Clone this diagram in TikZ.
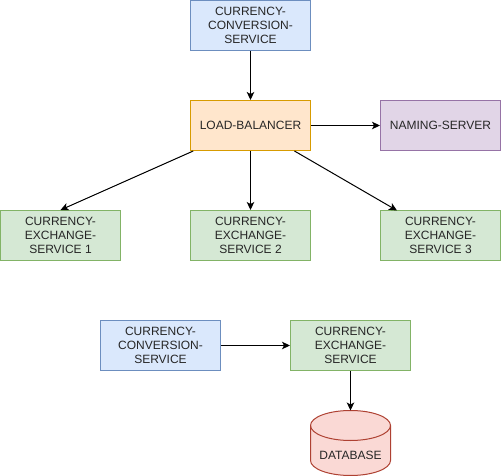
\documentclass[tikz,border=0pt]{standalone}
\usepackage{fontspec}
\setmainfont{Liberation Sans}
\usetikzlibrary{arrows.meta}
\definecolor{bluef}{HTML}{DAE8FC}\definecolor{blued}{HTML}{6C8EBF}
\definecolor{orangef}{HTML}{FFE6CC}\definecolor{oranged}{HTML}{D79B00}
\definecolor{purplef}{HTML}{E1D5E7}\definecolor{purpled}{HTML}{9673A6}
\definecolor{greenf}{HTML}{D5E8D4}\definecolor{greend}{HTML}{82B366}
\definecolor{redf}{HTML}{FAD9D5}\definecolor{redd}{HTML}{AE4132}
\tikzset{
  x=1pt,y=-1pt,
  box/.style={rectangle,draw,line width=1pt,minimum width=120pt,minimum height=50pt,inner sep=0pt,align=center,font=\fontsize{12}{14}\selectfont,text=black!85},
  bluebox/.style={box,fill=bluef,draw=blued},
  orangebox/.style={box,fill=orangef,draw=oranged},
  purplebox/.style={box,fill=purplef,draw=purpled},
  greenbox/.style={box,fill=greenf,draw=greend},
  dbline/.style={draw=redd,fill=redf,line width=1pt},
  dbtext/.style={inner sep=0pt,font=\fontsize{12}{14}\selectfont,text=black!85},
  conn/.style={draw=black,line width=1pt,-{Stealth[length=8pt,width=7.5pt,inset=2pt]}}
}
\begin{document}
\begin{tikzpicture}
\useasboundingbox (0,0) rectangle (501,476);
\node[bluebox] (c1) at (250.5,25.5) {CURRENCY-\\CONVERSION-\\SERVICE};
\node[orangebox] (lb) at (250.5,125.5) {LOAD-BALANCER};
\node[purplebox] (ns) at (440.5,125.5) {NAMING-SERVER};
\node[greenbox] (e1) at (60.5,235.5) {CURRENCY-\\EXCHANGE-\\SERVICE 1};
\node[greenbox] (e2) at (250.5,235.5) {CURRENCY-\\EXCHANGE-\\SERVICE 2};
\node[greenbox] (e3) at (440.5,235.5) {CURRENCY-\\EXCHANGE-\\SERVICE 3};
\node[bluebox] (c2) at (160.5,345.5) {CURRENCY-\\CONVERSION-\\SERVICE};
\node[greenbox] (e4) at (350.5,345.5) {CURRENCY-\\EXCHANGE-\\SERVICE};
\path[dbline] (310.5,425.5) arc[start angle=180,end angle=0,x radius=40,y radius=-15] -- (390.5,460.5) arc[start angle=0,end angle=-180,x radius=40,y radius=-15] -- cycle;
\path[draw=redd,line width=1pt] (310.5,425.5) arc[start angle=180,end angle=360,x radius=40,y radius=-15];
\node[dbtext] (dbl) at (350.5,455.5) {DATABASE};
\coordinate (dbtop) at (350.5,410.5);
\coordinate (e3end) at (397,210.5);
\draw[conn] (c1) -- (lb);
\draw[conn] (lb) -- (ns);
\draw[conn] (lb) -- (e1.north);
\draw[conn] (lb) -- (e2);
\draw[conn] (lb) -- (e3end);
\draw[conn] (c2) -- (e4);
\draw[conn] (e4) -- (dbtop);
\end{tikzpicture}
\end{document}
